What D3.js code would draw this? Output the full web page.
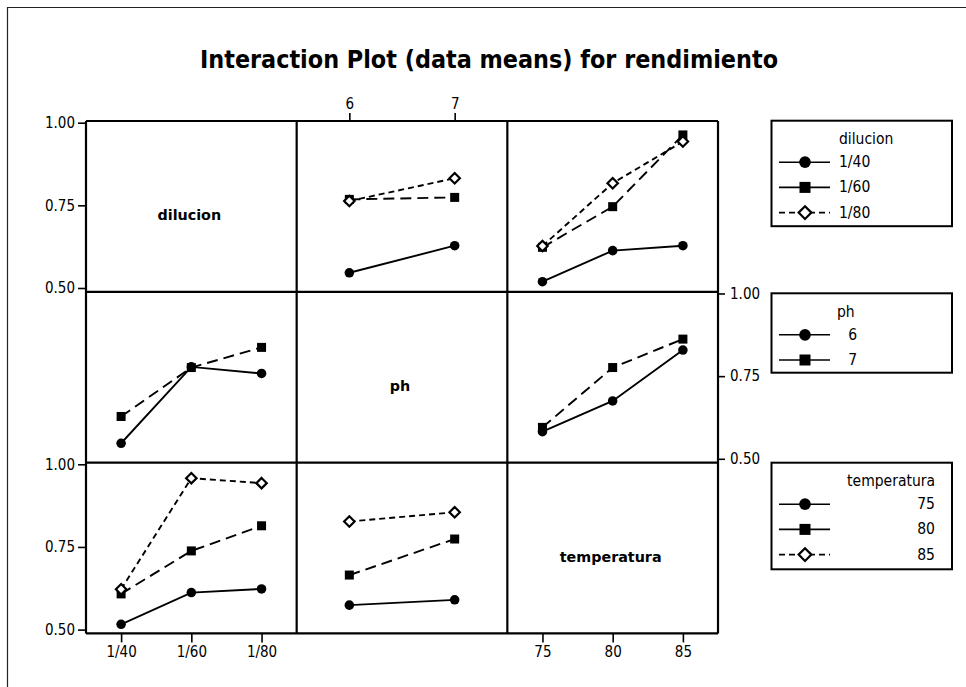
<!DOCTYPE html>
<html><head><meta charset="utf-8">
<script src="https://cdn.jsdelivr.net/npm/d3@7"></script>
<style>body{margin:0;background:#fff}</style>
</head><body><svg id="c" width="966" height="687"></svg>
<script>
// ---------- data ----------
const chartTitle = "Interaction Plot (data means) for rendimiento";
const factorNames = ["dilucion", "ph", "temperatura"];
const dilucionLevels = ["1/40", "1/60", "1/80"];
const phLevels = ["6", "7"];
const temperaturaLevels = ["75", "80", "85"];
const yTicks = [0.50, 0.75, 1.00];

// means: rows = trace-factor levels, columns = x-factor levels
const dilucionByPh = [[0.546, 0.628], [0.768, 0.774], [0.763, 0.832]];
const dilucionByTemperatura = [[0.519, 0.613, 0.628], [0.623, 0.746, 0.963], [0.627, 0.817, 0.943]];
const phByDilucion = [[0.547, 0.778, 0.758], [0.628, 0.776, 0.837]];
const phByTemperatura = [[0.582, 0.675, 0.829], [0.595, 0.776, 0.862]];
const temperaturaByDilucion = [[0.516, 0.612, 0.623], [0.608, 0.738, 0.814], [0.622, 0.958, 0.943]];
const temperaturaByPh = [[0.574, 0.590], [0.665, 0.774], [0.827, 0.855]];

// ---------- layout ----------
const levels = [dilucionLevels, phLevels, temperaturaLevels];
const panelMeans = [
  [null, dilucionByPh, dilucionByTemperatura],
  [phByDilucion, null, phByTemperatura],
  [temperaturaByDilucion, temperaturaByPh, null]
];
const G = {left: 86, top: 121, w: 210.67, h: 170.8};
const yDomain = [0.4885, 1.0051];
const tickFont = "'DejaVu Sans Condensed', 'DejaVu Sans', sans-serif";
const styles = [
  {shape: "circle", dash: null, fill: "#000"},
  {shape: "square", dash: "11,6", fill: "#000"},
  {shape: "diamond", dash: "6,4", fill: "#fff"}
];

const svg = d3.select("#c");
svg.append("rect").attr("width", 966).attr("height", 687).attr("fill", "#fff");

// outer frame (top + left visible)
svg.append("path").attr("d", "M7.5,687 L7.5,7.5 L966,7.5")
  .attr("fill", "none").attr("stroke", "#222").attr("stroke-width", 1.2);

// title
svg.append("text").text(chartTitle)
  .attr("x", 489).attr("y", 68).attr("text-anchor", "middle")
  .attr("font-family", "'DejaVu Sans Condensed', 'DejaVu Sans', sans-serif")
  .attr("font-weight", "bold").attr("font-size", 25)
  .attr("textLength", 578).attr("lengthAdjust", "spacingAndGlyphs")
  .attr("fill", "#000");

const xScales = levels.map((lv, c) => d3.scalePoint().domain(lv)
  .range([G.left + c * G.w, G.left + (c + 1) * G.w]).padding(0.5));
const yScales = [0, 1, 2].map(r => d3.scaleLinear().domain(yDomain)
  .range([G.top + (r + 1) * G.h, G.top + r * G.h]));

function marker(g, shape, x, y, s, fill) {
  if (shape === "circle") {
    g.append("circle").attr("cx", x).attr("cy", y).attr("r", s * 0.53).attr("fill", "#000");
  } else if (shape === "square") {
    g.append("rect").attr("x", x - s / 2).attr("y", y - s / 2).attr("width", s).attr("height", s).attr("fill", "#000");
  } else {
    const d = s * 0.58;
    g.append("path").attr("d", `M${x},${y - d}L${x + d},${y}L${x},${y + d}L${x - d},${y}Z`)
      .attr("fill", fill).attr("stroke", "#000").attr("stroke-width", 2.2);
  }
}

// panels
for (let r = 0; r < 3; r++) {
  for (let c = 0; c < 3; c++) {
    const x0 = G.left + c * G.w, y0 = G.top + r * G.h;
    const g = svg.append("g");
    if (r === c) {
      g.append("text").text(factorNames[r])
        .attr("x", x0 + G.w / 2 - 2).attr("y", y0 + G.h / 2 + 9)
        .attr("text-anchor", "middle").attr("dominant-baseline", "central")
        .attr("font-family", "'DejaVu Sans', sans-serif").attr("font-weight", "bold")
        .attr("font-size", 14.3).attr("fill", "#000");
      continue;
    }
    const m = panelMeans[r][c];
    const xs = xScales[c], ys = yScales[r];
    const line = d3.line().x((d, i) => xs(levels[c][i])).y(d => ys(d));
    m.forEach((series, k) => {
      g.append("path").attr("d", line(series)).attr("fill", "none")
        .attr("stroke", "#000").attr("stroke-width", 1.9)
        .attr("stroke-dasharray", styles[k].dash);
    });
    m.forEach((series, k) => {
      series.forEach((v, i) => {
        marker(g, styles[k].shape, xs(levels[c][i]), ys(v), 9, styles[k].fill);
      });
    });
  }
}

// grid borders
const gridG = svg.append("g").attr("stroke", "#000").attr("stroke-width", 2.2).attr("fill", "none");
for (let i = 0; i <= 3; i++) {
  gridG.append("line").attr("x1", G.left + i * G.w).attr("x2", G.left + i * G.w)
    .attr("y1", G.top).attr("y2", G.top + 3 * G.h);
  gridG.append("line").attr("y1", G.top + i * G.h).attr("y2", G.top + i * G.h)
    .attr("x1", G.left).attr("x2", G.left + 3 * G.w);
}

function styleAxis(sel) {
  sel.select(".domain").remove();
  sel.selectAll(".tick line").attr("stroke", "#000").attr("stroke-width", 1.6);
  sel.selectAll(".tick text").attr("font-family", tickFont).attr("font-size", 15).attr("fill", "#000");
}
const fmt = d3.format(".2f");
[0, 2].forEach(r => {
  svg.append("g").attr("transform", `translate(${G.left},0)`)
    .call(d3.axisLeft(yScales[r]).tickValues(yTicks).tickFormat(fmt).tickSize(8).tickPadding(3))
    .call(styleAxis);
});
svg.append("g").attr("transform", `translate(${G.left + 3 * G.w},0)`)
  .call(d3.axisRight(yScales[1]).tickValues(yTicks).tickFormat(fmt).tickSize(7).tickPadding(5))
  .call(styleAxis);
[0, 2].forEach(c => {
  svg.append("g").attr("transform", `translate(0,${G.top + 3 * G.h})`)
    .call(d3.axisBottom(xScales[c]).tickSize(9).tickPadding(4))
    .call(styleAxis);
});
svg.append("g").attr("transform", `translate(0,${G.top})`)
  .call(d3.axisTop(xScales[1]).tickSize(8).tickPadding(4))
  .call(styleAxis);

// legends
const legends = [
  {name: factorNames[0], lv: dilucionLevels, y: 120.7, h: 105.5, anchor: "start", tx: 839},
  {name: factorNames[1], lv: phLevels, y: 293.3, h: 79.4, anchor: "end", tx: 857, titleAnchor: "start", ttx: 837},
  {name: factorNames[2], lv: temperaturaLevels, y: 462.7, h: 106.6, anchor: "end", tx: 935}
];
legends.forEach(L => {
  const g = svg.append("g");
  g.append("rect").attr("x", 771.5).attr("y", L.y).attr("width", 180.5).attr("height", L.h)
    .attr("fill", "#fff").attr("stroke", "#000").attr("stroke-width", 2);
  g.append("text").text(L.name)
    .attr("x", L.ttx || L.tx).attr("y", L.y + 18.5)
    .attr("text-anchor", L.titleAnchor || L.anchor).attr("dominant-baseline", "central")
    .attr("font-family", tickFont).attr("font-size", 15.5).attr("fill", "#000");
  L.lv.forEach((v, k) => {
    const yy = L.y + 41.5 + k * 25.2;
    g.append("line").attr("x1", 779).attr("x2", 830).attr("y1", yy).attr("y2", yy)
      .attr("stroke", "#000").attr("stroke-width", 1.6)
      .attr("stroke-dasharray", k === 2 ? "6,4" : null);
    marker(g, styles[k].shape, 805, yy, 11, styles[k].fill);
    g.append("text").text(v).attr("x", L.tx).attr("y", yy)
      .attr("text-anchor", L.anchor).attr("dominant-baseline", "central")
      .attr("font-family", tickFont).attr("font-size", 15.5).attr("fill", "#000");
  });
});
</script>
</body></html>
